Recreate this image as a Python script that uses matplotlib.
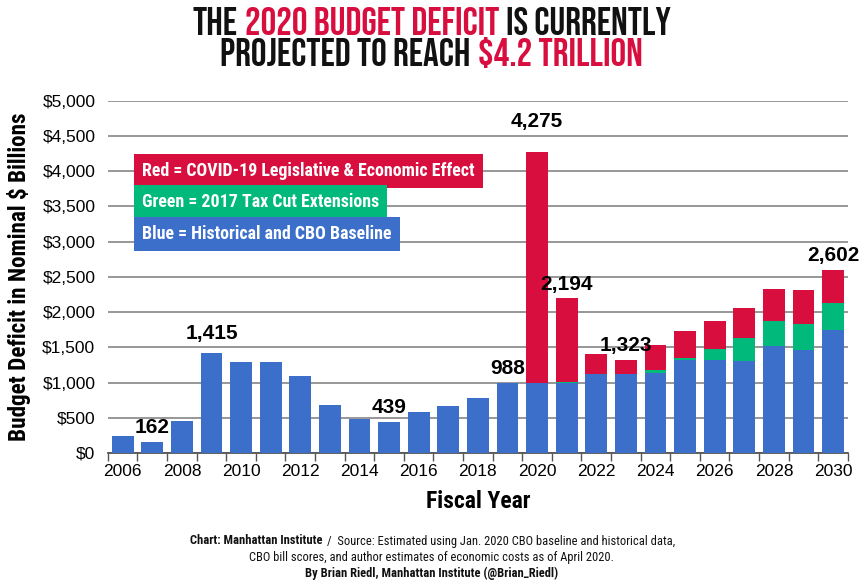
import matplotlib
matplotlib.use("Agg")
import matplotlib.pyplot as plt
import matplotlib.ticker as ticker
from matplotlib import font_manager

# Fiscal years and deficit components ($ billions)
years = list(range(2006, 2031))
baseline = [248, 162, 459, 1415, 1294, 1285, 1087, 680, 485, 439, 585, 665, 779, 988,
            1000, 990, 1118, 1118, 1141, 1316, 1326, 1307, 1520, 1459, 1743]
tax_cut = [0, 0, 0, 0, 0, 0, 0, 0, 0, 0, 0, 0, 0, 0,
           0, 20, 10, 0, 33, 38, 151, 331, 355, 369, 388]
covid = [0, 0, 0, 0, 0, 0, 0, 0, 0, 0, 0, 0, 0, 0,
         3275, 1184, 278, 205, 360, 374, 398, 422, 455, 487, 471]
labeled_years = [2007, 2009, 2015, 2019, 2020, 2021, 2023, 2030]
label_text = ["162", "1,415", "439", "988", "4,275", "2,194", "1,323", "2,602"]
tick_years = list(range(2006, 2031, 2))
y_ticks = list(range(0, 5001, 500))

BLUE = "#3b6fc9"
GREEN = "#00b97a"
RED = "#d80e3f"
black = "#111111"

available = {f.name for f in font_manager.fontManager.ttflist}


def pick(*names):
    return [n for n in names if n in available][:1] + ["DejaVu Sans"]


HEAD = pick("Bebas Neue", "League Gothic", "Oswald", "Antonio", "Fjalla One")
NARROW = pick("Roboto Condensed", "Archivo Narrow", "Pragati Narrow", "Asap Condensed",
              "Liberation Sans Narrow")
SANS = pick("Liberation Sans", "Arimo")

fig = plt.figure(figsize=(8.63, 5.83), dpi=100)
ax = fig.add_axes([0.125, 0.223, 0.8575, 0.604])

bottom2 = [b + g for b, g in zip(baseline, tax_cut)]
ax.bar(years, baseline, width=0.74, color=BLUE, zorder=3)
ax.bar(years, tax_cut, width=0.74, bottom=baseline, color=GREEN, zorder=3)
ax.bar(years, covid, width=0.74, bottom=bottom2, color=RED, zorder=3)

# value labels; the 2009 and 2020 ones sit a little higher above their bars
totals = {y: b + g + c for y, b, g, c in zip(years, baseline, tax_cut, covid)}
for y, s in zip(labeled_years, label_text):
    lift = {2009: 150, 2020: 300}.get(y, 70)
    ax.text(y, totals[y] + lift, s, ha="center", va="bottom", fontsize=15,
            fontweight="bold", family=SANS, zorder=4)

ax.set_xlim(2005.5, 2030.5)
ax.set_ylim(0, 5000)
ax.set_yticks(y_ticks)
ax.yaxis.set_major_formatter(ticker.FuncFormatter(lambda v, p: f"${v:,.0f}"))
ax.set_xticks(tick_years)
ax.set_xticks([y + 0.5 for y in range(2005, 2031)], minor=True)
ax.tick_params(axis="x", which="major", length=0, pad=8, labelsize=12.5)
ax.tick_params(axis="x", which="minor", length=6, width=1, color="#555555")
ax.tick_params(axis="y", length=0, pad=9, labelsize=12.5)
for lab in ax.get_xticklabels() + ax.get_yticklabels():
    lab.set_family(SANS)
ax.grid(axis="y", color="#8f8f8f", linewidth=1.3, zorder=0)
for side in ["left", "right", "top"]:
    ax.spines[side].set_visible(False)
ax.spines["bottom"].set_color("#555555")
ax.spines["bottom"].set_linewidth(1.3)

ylab = ax.set_ylabel("Budget Deficit in Nominal $ Billions", fontsize=15, fontweight="bold",
                     family=NARROW, labelpad=8)
ax.set_xlabel("Fiscal Year", fontsize=17, fontweight="bold", family=NARROW, labelpad=8)

fig.canvas.draw()
r = fig.canvas.get_renderer()

# rotated label: its length is the vertical extent
ylab.set_fontsize(15 * 330 / ylab.get_window_extent(r).height)

# Colour key boxes
keys = [("Red = COVID-19 Legislative & Economic Effect", RED, 171),
        ("Green = 2017 Tax Cut Extensions", GREEN, 202),
        ("Blue = Historical and CBO Baseline", BLUE, 234)]
key_texts = []
for txt, col, ypx in keys:
    t = fig.text(142 / 863, 1 - ypx / 583, txt, color="white", fontsize=13, fontweight="bold",
                 family=NARROW, va="center", ha="left", zorder=5,
                 bbox=dict(boxstyle="square,pad=0.45", facecolor=col, edgecolor="none"))
    key_texts.append(t)
w0 = key_texts[0].get_window_extent(r).width
for t in key_texts:
    t.set_fontsize(13 * 331 / w0)


def centered_line(parts, ypx, size, gap, target=None):
    """Draw a line of differently styled words centred on the figure."""
    items = []
    for s, col, wt, fam in parts:
        t = fig.text(0, 1 - ypx / 583, s, color=col, fontsize=size, fontweight=wt,
                     family=fam, va="center", ha="left")
        items.append(t)
    widths = [t.get_window_extent(r).width for t in items]
    total = sum(widths) + gap * (len(items) - 1)
    scale = 1.0 if target is None else target / total
    for t in items:
        t.set_fontsize(size * scale)
    widths = [w * scale for w in widths]
    x = (863 - total * scale) / 2
    for t, w in zip(items, widths):
        t.set_x(x / 863)
        x += w + gap * scale
    return scale


s = centered_line([("THE", black, "bold", HEAD), ("2020 BUDGET DEFICIT", RED, "bold", HEAD),
                   ("IS CURRENTLY", black, "bold", HEAD)], 21, 30, 8, target=478)
centered_line([("PROJECTED TO REACH", black, "bold", HEAD),
               ("$4.2 TRILLION", RED, "bold", HEAD)], 52, 30 * s, 8 * s)

s2 = centered_line([("Chart: Manhattan Institute", black, "bold", NARROW),
                    ("/  Source: Estimated using Jan. 2020 CBO baseline and historical data,",
                     black, "normal", NARROW)], 541, 9, 5, target=484)
fig.text(0.5, 1 - 557 / 583, "CBO bill scores, and author estimates of economic costs as of April 2020.",
         ha="center", va="center", fontsize=9 * s2, family=NARROW, color=black)
fig.text(0.5, 1 - 573 / 583, "By Brian Riedl, Manhattan Institute (@Brian_Riedl)",
         ha="center", va="center", fontsize=9 * s2, fontweight="bold", family=NARROW, color=black)

fig.savefig("out.png", dpi=100)
